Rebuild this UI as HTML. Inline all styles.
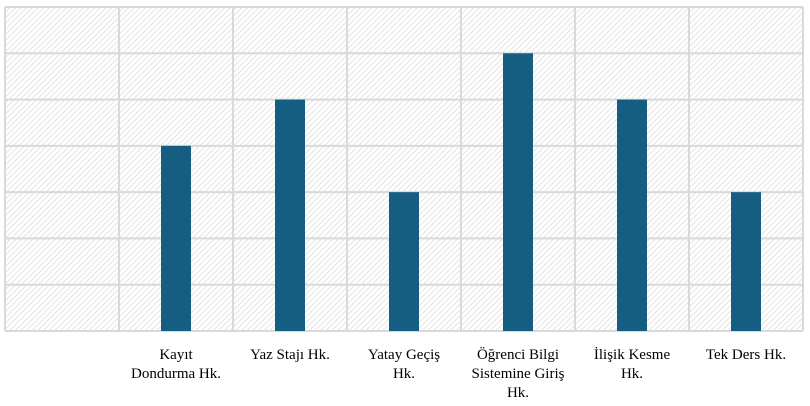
<!DOCTYPE html>
<html><head><meta charset="utf-8"><style>body{margin:0;background:#fff}svg{display:block}</style></head>
<body>
<svg id="chart" width="810" height="406" font-family="'Liberation Serif', serif">
<defs><pattern id="hatch" width="4" height="4" patternUnits="userSpaceOnUse" patternTransform="rotate(45)"><rect width="4" height="4" fill="#fff"/><line x1="0" y1="0" x2="0" y2="4" stroke="#dcdcdc" stroke-width="1.6"/></pattern></defs>
<rect x="5" y="7" width="798" height="324" fill="url(#hatch)"/>
<g id="grid"></g><g id="bars"></g><g id="labels"></g>
</svg>
<script>
const categories=["", "Kayıt|Dondurma Hk.", "Yaz Stajı Hk.", "Yatay Geçiş|Hk.", "Öğrenci Bilgi|Sistemine Giriş|Hk.", "İlişik Kesme|Hk.", "Tek Ders Hk."];
const values=[0,4,5,3,6,5,3];
const yMax=7;
const NS="http://www.w3.org/2000/svg";
const L=5,R=803,T=7,B=331;
const bw=(R-L)/categories.length;
const x=i=>L+bw*i;
const y=v=>B-(B-T)*v/yMax;
const grid=document.getElementById('grid'),bars=document.getElementById('bars'),labels=document.getElementById('labels');
for(let k=0;k<=yMax;k++){const l=document.createElementNS(NS,'line');


l.setAttribute('x1',L);l.setAttribute('x2',R);l.setAttribute('y1',y(k));l.setAttribute('y2',y(k));l.setAttribute('stroke','#d9d9d9');l.setAttribute('stroke-width','2');grid.appendChild(l);}
for(let i=0;i<=categories.length;i++){const l=document.createElementNS(NS,'line');


l.setAttribute('x1',x(i));l.setAttribute('x2',x(i));l.setAttribute('y1',T);l.setAttribute('y2',B);l.setAttribute('stroke','#d9d9d9');l.setAttribute('stroke-width','2');grid.appendChild(l);}
categories.forEach((c,i)=>{const cx=x(i)+bw/2;
if(values[i]>0){const r=document.createElementNS(NS,'rect');


r.setAttribute('x',cx-15);r.setAttribute('width',30);r.setAttribute('y',y(values[i]));r.setAttribute('height',B-y(values[i]));r.setAttribute('fill','#165e81');bars.appendChild(r);}
if(c){const t=document.createElementNS(NS,'text');


t.setAttribute('text-anchor','middle');t.setAttribute('font-size','15');t.setAttribute('fill','#000');
c.split('|').forEach((s,j)=>{const ts=document.createElementNS(NS,'tspan');ts.setAttribute('x',cx);ts.setAttribute('y',359+j*19);ts.textContent=s;t.appendChild(ts);});
labels.appendChild(t);}});
</script>
</body></html>
